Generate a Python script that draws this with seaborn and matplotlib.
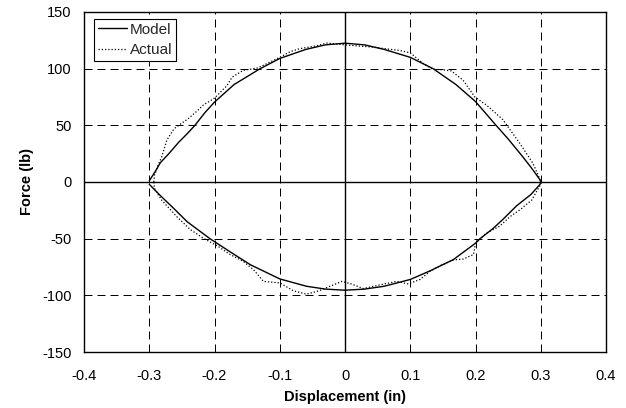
import numpy as np
import pandas as pd
import matplotlib
matplotlib.use("Agg")
import matplotlib.pyplot as plt
import seaborn as sns

# Hysteresis loop: model prediction (upper branch left->right, lower branch right->left)
model_x = [-0.300, -0.290, -0.283, -0.270, -0.255, -0.242, -0.230, -0.215, -0.200, -0.170,
           -0.130, -0.100, -0.060, -0.030, 0.000, 0.030, 0.060, 0.100, 0.135, 0.170,
           0.200, 0.215, 0.230, 0.250, 0.270, 0.285, 0.300,
           0.299, 0.285, 0.263, 0.242, 0.227, 0.207, 0.200, 0.166, 0.130, 0.100,
           0.060, 0.030, 0.000, -0.030, -0.059, -0.100, -0.145, -0.175, -0.207, -0.242,
           -0.263, -0.283, -0.300]
model_y = [1.0, 10.0, 17.0, 25.0, 35.0, 42.5, 50.0, 61.0, 70.5, 86.0,
           100.0, 109.0, 117.0, 121.0, 122.5, 121.0, 117.0, 110.0, 100.0, 86.0,
           71.0, 61.0, 51.0, 38.0, 24.0, 13.0, 1.0,
           -2.0, -11.0, -21.0, -33.0, -41.0, -50.0, -54.0, -68.5, -78.5, -86.0,
           -92.0, -94.5, -95.5, -94.5, -92.0, -85.5, -73.0, -62.0, -50.0, -35.0,
           -23.0, -12.0, -2.0]

# Measured response
actual_x = [-0.293, -0.292, -0.287, -0.281, -0.273, -0.262, -0.250, -0.240, -0.228, -0.217,
            -0.200, -0.181, -0.173, -0.156, -0.135, -0.125, -0.100, -0.084, -0.069, -0.045,
            -0.028, 0.008, 0.043, 0.084, 0.100, 0.120, 0.135, 0.150, 0.163, 0.181,
            0.199, 0.217, 0.242, 0.268, 0.288, 0.296, 0.300,
            0.299, 0.286, 0.268, 0.253, 0.237, 0.217, 0.200, 0.197, 0.181, 0.166,
            0.145, 0.130, 0.115, 0.097, 0.079, 0.054, 0.028, 0.010, -0.005, -0.023,
            -0.040, -0.059, -0.079, -0.100, -0.125, -0.140, -0.156, -0.176, -0.194, -0.217,
            -0.237, -0.258, -0.281, -0.292, -0.293]
actual_y = [0.0, 6.0, 14.0, 22.0, 37.0, 47.0, 52.0, 56.0, 62.0, 68.0,
            74.0, 85.0, 92.5, 98.5, 100.5, 103.0, 110.0, 115.0, 117.7, 120.0,
            122.6, 120.6, 119.0, 116.0, 114.0, 104.5, 99.5, 99.0, 98.0, 89.8,
            75.0, 67.8, 55.0, 34.0, 16.5, 6.0, 0.0,
            -3.0, -16.0, -24.6, -30.5, -39.0, -45.0, -54.0, -64.0, -68.0, -68.7,
            -74.0, -79.0, -86.0, -90.0, -87.7, -90.7, -94.0, -90.0, -87.7, -92.0,
            -96.0, -99.0, -96.0, -89.0, -87.7, -77.5, -70.0, -64.0, -57.0, -49.6,
            -42.0, -30.5, -16.0, -5.6, 0.0]

x_ticks = [-0.4, -0.3, -0.2, -0.1, 0.0, 0.1, 0.2, 0.3, 0.4]
x_tick_labels = ["-0.4", "-0.3", "-0.2", "-0.1", "0", "0.1", "0.2", "0.3", "0.4"]
y_ticks = [-150, -100, -50, 0, 50, 100, 150]

model = pd.DataFrame({"disp": model_x, "force": model_y})
actual = pd.DataFrame({"disp": actual_x, "force": actual_y})

sns.set_theme(style="white")
plt.rcParams["font.family"] = ["Liberation Sans", "DejaVu Sans"]
plt.rcParams["font.size"] = 10.5
plt.rcParams["axes.unicode_minus"] = False

fig = plt.figure(figsize=(6.26, 4.08), dpi=100)
ax = fig.add_axes([84 / 626, 56 / 408, 522 / 626, 340 / 408])

sns.lineplot(data=model, x="disp", y="force", sort=False, estimator=None,
             color="black", linewidth=1.0, label="Model", ax=ax, zorder=4)
sns.lineplot(data=actual, x="disp", y="force", sort=False, estimator=None,
             color="black", linewidth=0.9, linestyle=(0, (1, 1.6)),
             label="Actual", ax=ax, zorder=3)

ax.set_xlim(-0.4, 0.4)
ax.set_ylim(-150, 150)
ax.set_xticks(x_ticks)
ax.set_xticklabels(x_tick_labels)
ax.set_yticks(y_ticks)

# dashed grid and solid axes through the origin
ax.grid(True, color="black", linestyle=(0, (8, 5)), linewidth=0.72, zorder=1)
ax.set_axisbelow(True)
ax.axhline(0, color="black", linewidth=1.0, zorder=2)
ax.axvline(0, color="black", linewidth=1.0, zorder=2)

for s in ax.spines.values():
    s.set_visible(True)
    s.set_color("black")
    s.set_linewidth(1.0)

ax.tick_params(axis="both", length=0, labelsize=10.5, colors="black")
ax.tick_params(axis="x", pad=12)
ax.tick_params(axis="y", pad=9)

ax.set_xlabel("Displacement (in)", fontsize=10.5, fontweight="bold", color="black")
ax.set_ylabel("Force (lb)", fontsize=10.5, fontweight="bold", color="black")
ax.xaxis.label.set_va("center")
ax.yaxis.label.set_va("center")
ax.xaxis.set_label_coords(0.5, (352 - 397) / 340)
ax.yaxis.set_label_coords((27 - 84) / 522, 0.5)

leg = ax.legend(loc="upper left", bbox_to_anchor=((94 - 84) / 522, (352 - 19) / 340),
                borderaxespad=0, frameon=True, fancybox=False, framealpha=1,
                edgecolor="black", fontsize=11, handlelength=1.9,
                handletextpad=0.2, borderpad=0.25, labelspacing=0.4)
leg.get_frame().set_linewidth(0.8)
leg.set_zorder(10)

fig.savefig("out.png", dpi=100, facecolor="white")
